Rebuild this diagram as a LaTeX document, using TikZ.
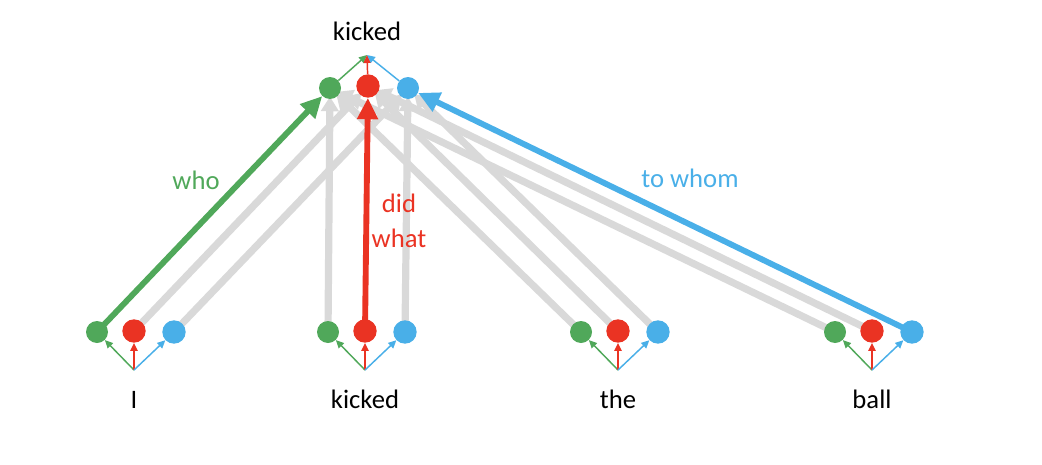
\documentclass[tikz,border=0pt]{standalone}
\usepackage{fontspec}
\setmainfont{Carlito}
\usetikzlibrary{arrows.meta,positioning,calc,backgrounds}

\definecolor{whogreen}{RGB}{80,168,90}
\definecolor{didred}{RGB}{234,51,35}
\definecolor{whomblue}{RGB}{73,175,232}
\definecolor{attgrey}{RGB}{217,217,217}

\tikzset{
  dot/.style={circle,inner sep=0pt,minimum size=16.5pt},
  bigdot/.style={dot,minimum size=17.5pt},
  word/.style={anchor=base,font=\fontsize{20}{24}\selectfont},
  lbl/.style={font=\fontsize{20}{26}\selectfont,align=center},
  thin/.style={line width=1.1pt,-{Triangle[length=6pt,width=5.5pt]}},
  attn/.style={line width=5.4pt,draw=attgrey,shorten >=-2pt,-{Triangle[length=11pt,width=13pt]}},
  strong/.style={line width=4.4pt,-{Triangle[length=16pt,width=15pt]}},
}

\begin{document}
\begin{tikzpicture}[x=0.75pt,y=-0.75pt]
      \useasboundingbox (0,0) rectangle (1042,464);

      % top word
      \node[word] (top) at (367,40) {kicked};
      \coordinate (apex) at (367,55);
      \node[dot,fill=whogreen]  (gk) at (330,88) {};
      \node[bigdot,fill=didred] (rk) at (368,86) {};
      \node[dot,fill=whomblue]  (bk) at (408,88) {};
      \draw[thin,whogreen] (gk)--(apex);
      \draw[thin,didred]   (rk)--(apex);
      \draw[thin,whomblue] (bk)--(apex);

      % bottom words
      \foreach \n/\x/\w in {1/134/I,2/365/kicked,3/618/the,4/872/ball} {
        \node[dot,fill=whogreen]  (g\n) at (\x-37,332) {};
        \node[bigdot,fill=didred] (r\n) at (\x,331) {};
        \node[bigdot,fill=whomblue] (b\n) at (\x+40,332) {};
        \coordinate (s\n) at (\x,370);
        \node[word] (w\n) at (\x,408) {\w};
        \draw[thin,whogreen] (s\n)--(g\n);
        \draw[thin,didred]   (s\n)--(r\n);
        \draw[thin,whomblue] (s\n)--(b\n);
      }

      % attention
      \begin{scope}[on background layer]
        \foreach \f/\t in {r1/rk,b1/bk,g2/gk,b2/bk,g3/gk,r3/rk,b3/bk,g4/gk,r4/rk}
          \draw[attn] (\f.center)--(\t);
      \end{scope}

      \draw[strong,whogreen] (g1.center)--(gk);
      \draw[strong,didred]   (r2.center)--(rk);
      \draw[strong,whomblue] (b4.center)--(bk);

      \node[lbl,text=whogreen] (who) at (196,180) {who};
      \node[lbl,text=didred]   (what) at (399,221) {did\\what};
      \node[lbl,text=whomblue] (whom) at (690,178) {to whom};

    \end{tikzpicture}
\end{document}
